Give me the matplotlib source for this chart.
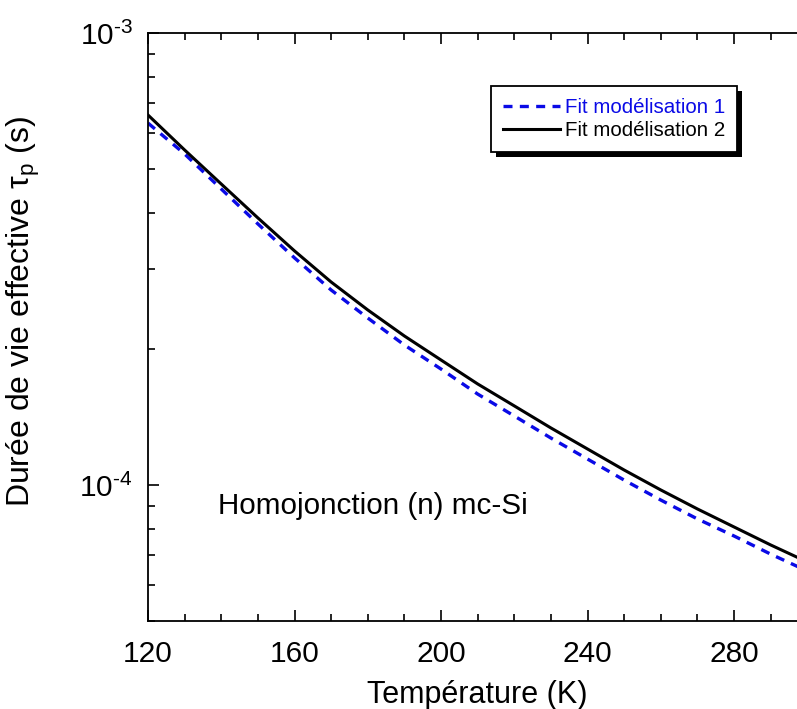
import matplotlib
matplotlib.use("Agg")
import matplotlib.pyplot as plt
from matplotlib.patches import Rectangle
from matplotlib.ticker import LogLocator, MultipleLocator, NullFormatter, FixedLocator, FixedFormatter

plt.rcParams['font.family'] = ['Liberation Sans', 'DejaVu Sans']
plt.rcParams['mathtext.fontset'] = 'custom'
plt.rcParams['mathtext.rm'] = 'Liberation Sans'
plt.rcParams['mathtext.it'] = 'Liberation Sans'
plt.rcParams['mathtext.default'] = 'regular'

# ---- data ----
temperature = [120, 130, 140, 150, 160, 170, 180, 190, 200, 210,
               220, 230, 240, 250, 260, 270, 280, 290, 300]
tau_fit1 = [6.32e-4, 5.40e-4, 4.517e-4, 3.781e-4, 3.180e-4, 2.700e-4, 2.341e-4, 2.040e-4, 1.805e-4, 1.589e-4,
            1.421e-4, 1.270e-4, 1.141e-4, 1.025e-4, 9.26e-5, 8.41e-5, 7.71e-5, 7.03e-5, 6.45e-5]
tau_fit2 = [6.585e-4, 5.510e-4, 4.633e-4, 3.898e-4, 3.295e-4, 2.812e-4, 2.439e-4, 2.136e-4, 1.890e-4, 1.673e-4,
            1.496e-4, 1.337e-4, 1.201e-4, 1.079e-4, 9.748e-5, 8.849e-5, 8.073e-5, 7.366e-5, 6.755e-5]
series_labels = ["Fit modélisation 1", "Fit modélisation 2"]
x_ticks = [120, 160, 200, 240, 280]
y_ticks = [1e-4, 1e-3]
y_tick_labels = [r"$10^{\text{-4}}$", r"$10^{\text{-3}}$"]

W, H = 797, 709
fig = plt.figure(figsize=(W / 100, H / 100), dpi=100)
ax = fig.add_axes([148 / W, (H - 621) / H, (807.3 - 148) / W, (621 - 33) / H])

blue = '#0a0ae6'
ax.plot(temperature, tau_fit1, color=blue, lw=2.4, ls=(0, (2.7, 2.2)), label=series_labels[0])
ax.plot(temperature, tau_fit2, color='black', lw=2.2, label=series_labels[1])

ax.set_yscale('log')
ax.set_xlim(120, 300)
ax.set_ylim(5e-5, 1e-3)

ax.xaxis.set_major_locator(FixedLocator(x_ticks))
ax.xaxis.set_minor_locator(MultipleLocator(10))
ax.yaxis.set_major_locator(FixedLocator(y_ticks))
ax.yaxis.set_major_formatter(FixedFormatter(y_tick_labels))
ax.yaxis.set_minor_locator(LogLocator(base=10, subs=range(2, 10)))
ax.yaxis.set_minor_formatter(NullFormatter())

for s in ax.spines.values():
    s.set_linewidth(1.3)
ax.tick_params(which='both', direction='in', top=True, right=False, width=1.2)
ax.tick_params(which='major', length=8, labelsize=21.5)
ax.tick_params(which='minor', length=5)
ax.tick_params(axis='x', which='major', pad=13.5)
ax.tick_params(axis='y', which='major', pad=11)

ax.set_xlabel("Température (K)", fontsize=22)
ax.xaxis.set_label_coords(0.5, -0.1)
ax.set_ylabel(r"Durée de vie effective $\tau_p$ (s)", fontsize=23)
ax.yaxis.set_label_coords(-0.161, 0.527)

ax.text(139.1, 9.0e-5, "Homojonction (n) mc-Si", fontsize=21.3, ha='left', va='center')

leg = fig.legend(loc='upper left', bbox_to_anchor=(491 / W, 1 - 86 / H),
                 fontsize=14.8, frameon=True, fancybox=False, framealpha=1,
                 edgecolor='black', handlelength=2.8, handletextpad=0.2,
                 borderpad=0.58, labelspacing=0.2, labelcolor='linecolor',
                 borderaxespad=0)
leg.get_frame().set_linewidth(1.3)
leg.set_zorder(5)

fig.canvas.draw()
bb = leg.get_window_extent()
shadow = Rectangle((bb.x0 + 5, bb.y0 - 5), bb.width, bb.height, transform=None,
                   facecolor='black', edgecolor='none', zorder=4)
fig.patches.append(shadow)

fig.savefig("out.png", dpi=100)
